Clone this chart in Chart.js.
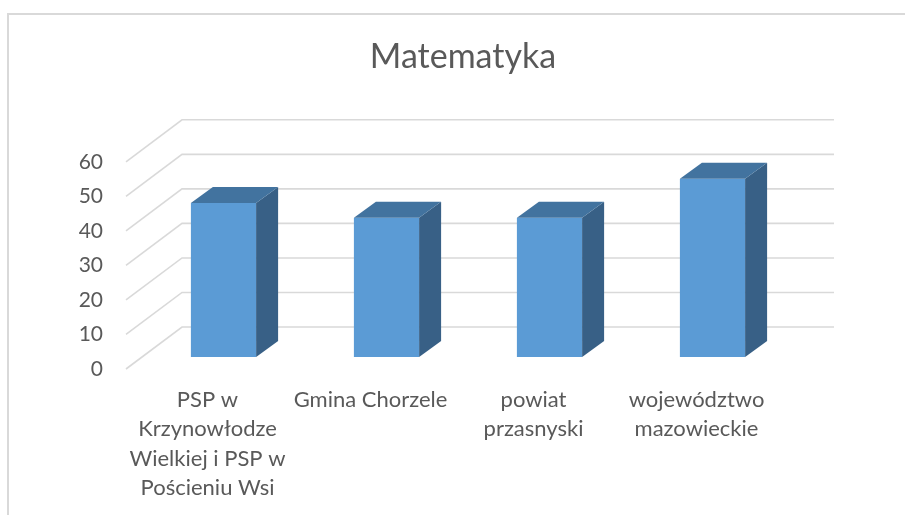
<!DOCTYPE html>
<html><head><meta charset="utf-8">
<script src="https://cdn.jsdelivr.net/npm/chart.js@4/dist/chart.umd.min.js"></script>
<style>html,body{margin:0;padding:0;background:#fff;} canvas{display:block;}</style>
</head><body>
<canvas id="c" width="905" height="515"></canvas>
<script>
const chartTitle = 'Matematyka';
const categories = [
  ["PSP w", "Krzynowłodze", "Wielkiej i PSP w", "Pościeniu Wsi"],
  ["Gmina Chorzele"],
  ["powiat", "przasnyski"],
  ["województwo", "mazowieckie"]
];
const values = [44.6, 40.3, 40.3, 51.6];
const yMin = 0, yMax = 60, yStep = 10;

const TEXT = '#595959';
const FONT = 'Lato, "Open Sans", sans-serif';
// oblique projection offsets for the 3D look (pixels)
const FRONT = {dx: -16, dy: 12};
const BACK = {dx: 40, dy: -30};
const DEPTH = {dx: 22, dy: -16};

const threeD = {
  id: 'threeD',
  beforeDraw(chart) {
    const ctx = chart.ctx;
    ctx.save();
    ctx.fillStyle = '#ffffff';
    ctx.fillRect(0, 0, chart.width, chart.height);
    ctx.strokeStyle = '#d9d9d9';
    ctx.lineWidth = 2;
    ctx.strokeRect(8, 14, chart.width + 50, chart.height + 50);
    ctx.restore();
  },
  beforeDatasetsDraw(chart) {
    const ctx = chart.ctx, ca = chart.chartArea, ys = chart.scales.y;
    ctx.save();
    ctx.strokeStyle = '#d9d9d9';
    ctx.lineWidth = 1.6;
    ys.ticks.forEach(t => {
      const y = ys.getPixelForValue(t.value);
      ctx.beginPath();
      ctx.moveTo(ca.left + FRONT.dx, y + FRONT.dy);
      ctx.lineTo(ca.left + BACK.dx, y + BACK.dy);
      ctx.lineTo(ca.right + BACK.dx, y + BACK.dy);
      ctx.stroke();
    });
    ctx.restore();
  },
  afterDatasetsDraw(chart) {
    const ctx = chart.ctx;
    const meta = chart.getDatasetMeta(0);
    ctx.save();
    meta.data.forEach(bar => {
      const p = bar.getProps(['x', 'y', 'base', 'width'], true);
      const l = p.x - p.width / 2, r = p.x + p.width / 2, top = p.y, base = p.base;
      // side face
      ctx.fillStyle = '#386086';
      ctx.beginPath();
      ctx.moveTo(r, top);
      ctx.lineTo(r + DEPTH.dx, top + DEPTH.dy);
      ctx.lineTo(r + DEPTH.dx, base + DEPTH.dy);
      ctx.lineTo(r, base);
      ctx.closePath();
      ctx.fill();
      // top face
      ctx.fillStyle = '#42739f';
      ctx.beginPath();
      ctx.moveTo(l, top);
      ctx.lineTo(l + DEPTH.dx, top + DEPTH.dy);
      ctx.lineTo(r + DEPTH.dx, top + DEPTH.dy);
      ctx.lineTo(r, top);
      ctx.closePath();
      ctx.fill();
    });
    ctx.restore();
  }
};

new Chart(document.getElementById('c'), {
  type: 'bar',
  data: {
    labels: categories,
    datasets: [{
      data: values,
      backgroundColor: '#5b9bd5',
      borderWidth: 0,
      barPercentage: 0.4,
      categoryPercentage: 1.0
    }]
  },
  options: {
    responsive: false,
    animation: false,
    devicePixelRatio: 1,
    layout: {padding: {left: 62, right: 41, top: 0, bottom: 0}},
    plugins: {
      legend: {display: false},
      tooltip: {enabled: false},
      title: {
        display: true,
        text: chartTitle,
        color: TEXT,
        font: {family: FONT, size: 34, weight: 'normal', lineHeight: 1.2},
        padding: {top: 37, bottom: 72}
      }
    },
    scales: {
      x: {
        grid: {display: false, drawTicks: false},
        border: {display: false},
        ticks: {
          color: TEXT,
          font: {family: FONT, size: 22, lineHeight: 1.34},
          padding: 28,
          labelOffset: FRONT.dx,
          maxRotation: 0,
          autoSkip: false
        },
        afterFit(s) { s.height = 158; }
      },
      y: {
        min: yMin, max: yMax,
        grid: {display: false, drawTicks: false},
        border: {display: false},
        ticks: {
          stepSize: yStep,
          color: TEXT,
          font: {family: FONT, size: 21},
          padding: 39,
          labelOffset: FRONT.dy
        },
        afterFit(s) { s.width = 80; }
      },
      spacer: {
        position: 'right',
        grid: {display: false, drawTicks: false},
        border: {display: false},
        ticks: {display: false},
        afterFit(s) { s.width = 70; }
      }
    }
  },
  plugins: [threeD]
});
</script>
</body></html>
